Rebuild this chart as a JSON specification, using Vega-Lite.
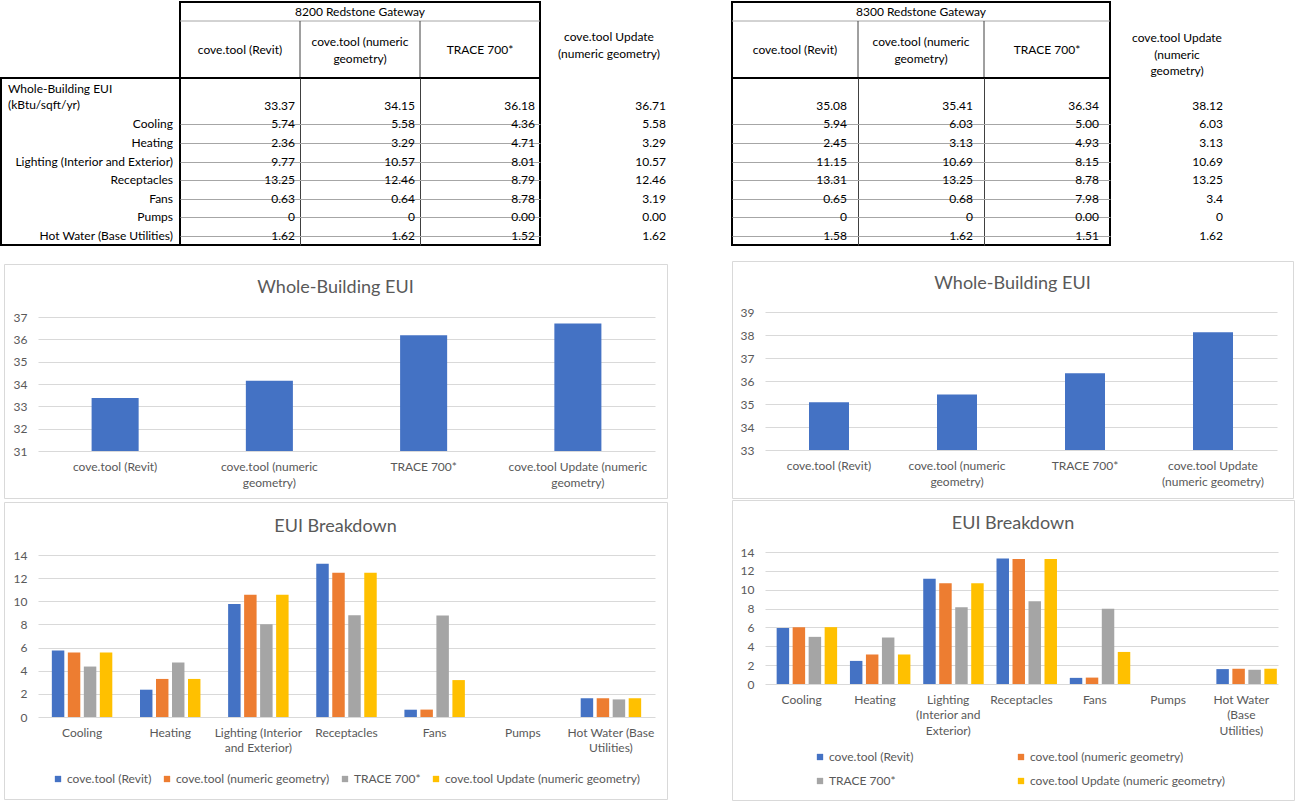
{
  "$schema": "https://vega.github.io/schema/vega-lite/v6.json",
  "padding": {"left": 0, "top": 1, "right": 4, "bottom": 2},
  "background": "white",
  "spacing": 60,
  "resolve": {"scale": {"color": "independent"}, "legend": {"color": "independent"}},
  "config": {
    "font": "Lato",
    "view": {"stroke": null},
    "text": {"font": "Lato", "fontSize": 12, "color": "#000000"},
    "axis": {"labelFont": "Lato", "labelFontSize": 12, "labelColor": "#595959", "ticks": false, "domain": false, "gridColor": "#d9d9d9", "gridWidth": 1},
    "title": {"font": "Lato", "fontSize": 18, "fontWeight": "normal", "color": "#595959", "anchor": "middle"},
    "legend": {"labelFont": "Lato", "labelFontSize": 12, "labelColor": "#595959", "symbolType": "square", "symbolSize": 40, "symbolStrokeWidth": 0, "labelOffset": 3, "labelLimit": 400}
  },
  "datasets": {
    "d": [
      {"building":"8200","metric":"Whole-Building EUI","model":"cove.tool (Revit)","value":33.37,"label":"33.37"},
      {"building":"8200","metric":"Whole-Building EUI","model":"cove.tool (numeric geometry)","value":34.15,"label":"34.15"},
      {"building":"8200","metric":"Whole-Building EUI","model":"TRACE 700*","value":36.18,"label":"36.18"},
      {"building":"8200","metric":"Whole-Building EUI","model":"cove.tool Update (numeric geometry)","value":36.71,"label":"36.71"},
      {"building":"8200","metric":"Cooling","model":"cove.tool (Revit)","value":5.74,"label":"5.74"},
      {"building":"8200","metric":"Cooling","model":"cove.tool (numeric geometry)","value":5.58,"label":"5.58"},
      {"building":"8200","metric":"Cooling","model":"TRACE 700*","value":4.36,"label":"4.36"},
      {"building":"8200","metric":"Cooling","model":"cove.tool Update (numeric geometry)","value":5.58,"label":"5.58"},
      {"building":"8200","metric":"Heating","model":"cove.tool (Revit)","value":2.36,"label":"2.36"},
      {"building":"8200","metric":"Heating","model":"cove.tool (numeric geometry)","value":3.29,"label":"3.29"},
      {"building":"8200","metric":"Heating","model":"TRACE 700*","value":4.71,"label":"4.71"},
      {"building":"8200","metric":"Heating","model":"cove.tool Update (numeric geometry)","value":3.29,"label":"3.29"},
      {"building":"8200","metric":"Lighting (Interior and Exterior)","model":"cove.tool (Revit)","value":9.77,"label":"9.77"},
      {"building":"8200","metric":"Lighting (Interior and Exterior)","model":"cove.tool (numeric geometry)","value":10.57,"label":"10.57"},
      {"building":"8200","metric":"Lighting (Interior and Exterior)","model":"TRACE 700*","value":8.01,"label":"8.01"},
      {"building":"8200","metric":"Lighting (Interior and Exterior)","model":"cove.tool Update (numeric geometry)","value":10.57,"label":"10.57"},
      {"building":"8200","metric":"Receptacles","model":"cove.tool (Revit)","value":13.25,"label":"13.25"},
      {"building":"8200","metric":"Receptacles","model":"cove.tool (numeric geometry)","value":12.46,"label":"12.46"},
      {"building":"8200","metric":"Receptacles","model":"TRACE 700*","value":8.79,"label":"8.79"},
      {"building":"8200","metric":"Receptacles","model":"cove.tool Update (numeric geometry)","value":12.46,"label":"12.46"},
      {"building":"8200","metric":"Fans","model":"cove.tool (Revit)","value":0.63,"label":"0.63"},
      {"building":"8200","metric":"Fans","model":"cove.tool (numeric geometry)","value":0.64,"label":"0.64"},
      {"building":"8200","metric":"Fans","model":"TRACE 700*","value":8.78,"label":"8.78"},
      {"building":"8200","metric":"Fans","model":"cove.tool Update (numeric geometry)","value":3.19,"label":"3.19"},
      {"building":"8200","metric":"Pumps","model":"cove.tool (Revit)","value":0,"label":"0"},
      {"building":"8200","metric":"Pumps","model":"cove.tool (numeric geometry)","value":0,"label":"0"},
      {"building":"8200","metric":"Pumps","model":"TRACE 700*","value":0,"label":"0.00"},
      {"building":"8200","metric":"Pumps","model":"cove.tool Update (numeric geometry)","value":0,"label":"0.00"},
      {"building":"8200","metric":"Hot Water (Base Utilities)","model":"cove.tool (Revit)","value":1.62,"label":"1.62"},
      {"building":"8200","metric":"Hot Water (Base Utilities)","model":"cove.tool (numeric geometry)","value":1.62,"label":"1.62"},
      {"building":"8200","metric":"Hot Water (Base Utilities)","model":"TRACE 700*","value":1.52,"label":"1.52"},
      {"building":"8200","metric":"Hot Water (Base Utilities)","model":"cove.tool Update (numeric geometry)","value":1.62,"label":"1.62"},
      {"building":"8300","metric":"Whole-Building EUI","model":"cove.tool (Revit)","value":35.08,"label":"35.08"},
      {"building":"8300","metric":"Whole-Building EUI","model":"cove.tool (numeric geometry)","value":35.41,"label":"35.41"},
      {"building":"8300","metric":"Whole-Building EUI","model":"TRACE 700*","value":36.34,"label":"36.34"},
      {"building":"8300","metric":"Whole-Building EUI","model":"cove.tool Update (numeric geometry)","value":38.12,"label":"38.12"},
      {"building":"8300","metric":"Cooling","model":"cove.tool (Revit)","value":5.94,"label":"5.94"},
      {"building":"8300","metric":"Cooling","model":"cove.tool (numeric geometry)","value":6.03,"label":"6.03"},
      {"building":"8300","metric":"Cooling","model":"TRACE 700*","value":5.0,"label":"5.00"},
      {"building":"8300","metric":"Cooling","model":"cove.tool Update (numeric geometry)","value":6.03,"label":"6.03"},
      {"building":"8300","metric":"Heating","model":"cove.tool (Revit)","value":2.45,"label":"2.45"},
      {"building":"8300","metric":"Heating","model":"cove.tool (numeric geometry)","value":3.13,"label":"3.13"},
      {"building":"8300","metric":"Heating","model":"TRACE 700*","value":4.93,"label":"4.93"},
      {"building":"8300","metric":"Heating","model":"cove.tool Update (numeric geometry)","value":3.13,"label":"3.13"},
      {"building":"8300","metric":"Lighting (Interior and Exterior)","model":"cove.tool (Revit)","value":11.15,"label":"11.15"},
      {"building":"8300","metric":"Lighting (Interior and Exterior)","model":"cove.tool (numeric geometry)","value":10.69,"label":"10.69"},
      {"building":"8300","metric":"Lighting (Interior and Exterior)","model":"TRACE 700*","value":8.15,"label":"8.15"},
      {"building":"8300","metric":"Lighting (Interior and Exterior)","model":"cove.tool Update (numeric geometry)","value":10.69,"label":"10.69"},
      {"building":"8300","metric":"Receptacles","model":"cove.tool (Revit)","value":13.31,"label":"13.31"},
      {"building":"8300","metric":"Receptacles","model":"cove.tool (numeric geometry)","value":13.25,"label":"13.25"},
      {"building":"8300","metric":"Receptacles","model":"TRACE 700*","value":8.78,"label":"8.78"},
      {"building":"8300","metric":"Receptacles","model":"cove.tool Update (numeric geometry)","value":13.25,"label":"13.25"},
      {"building":"8300","metric":"Fans","model":"cove.tool (Revit)","value":0.65,"label":"0.65"},
      {"building":"8300","metric":"Fans","model":"cove.tool (numeric geometry)","value":0.68,"label":"0.68"},
      {"building":"8300","metric":"Fans","model":"TRACE 700*","value":7.98,"label":"7.98"},
      {"building":"8300","metric":"Fans","model":"cove.tool Update (numeric geometry)","value":3.4,"label":"3.4"},
      {"building":"8300","metric":"Pumps","model":"cove.tool (Revit)","value":0,"label":"0"},
      {"building":"8300","metric":"Pumps","model":"cove.tool (numeric geometry)","value":0,"label":"0"},
      {"building":"8300","metric":"Pumps","model":"TRACE 700*","value":0,"label":"0.00"},
      {"building":"8300","metric":"Pumps","model":"cove.tool Update (numeric geometry)","value":0,"label":"0"},
      {"building":"8300","metric":"Hot Water (Base Utilities)","model":"cove.tool (Revit)","value":1.58,"label":"1.58"},
      {"building":"8300","metric":"Hot Water (Base Utilities)","model":"cove.tool (numeric geometry)","value":1.62,"label":"1.62"},
      {"building":"8300","metric":"Hot Water (Base Utilities)","model":"TRACE 700*","value":1.51,"label":"1.51"},
      {"building":"8300","metric":"Hot Water (Base Utilities)","model":"cove.tool Update (numeric geometry)","value":1.62,"label":"1.62"}
    ],
    "metrics": [
      {"metric":"Whole-Building EUI","label":"Whole-Building EUI\n(kBtu/sqft/yr)"},
      {"metric":"Cooling","label":"Cooling"},
      {"metric":"Heating","label":"Heating"},
      {"metric":"Lighting (Interior and Exterior)","label":"Lighting (Interior and Exterior)"},
      {"metric":"Receptacles","label":"Receptacles"},
      {"metric":"Fans","label":"Fans"},
      {"metric":"Pumps","label":"Pumps"},
      {"metric":"Hot Water (Base Utilities)","label":"Hot Water (Base Utilities)"}
    ],
    "heads": [
      {"model":"cove.tool (Revit)","label":"cove.tool (Revit)"},
      {"model":"cove.tool (numeric geometry)","label":"cove.tool (numeric\ngeometry)"},
      {"model":"TRACE 700*","label":"TRACE 700*"}
    ]
  },
  "hconcat": [
    {
      "spacing": 17,
      "resolve": {"scale": {"color": "independent"}, "legend": {"color": "independent"}},
      "vconcat": [
        {
          "bounds": "flush",
          "spacing": 0,
          "columns": 3,
          "concat": [
            {"width": 179, "height": 76, "data": {"values": [{"t": ""}]}, "mark": {"type": "text"}, "encoding": {"text": {"field": "t"}}},
            {
              "width": 360, "height": 76,
              "view": {"stroke": "#000000", "strokeWidth": 2},
              "layer": [
                {"data": {"values": [{"t": "8200 Redstone Gateway"}]}, "mark": {"type": "text"},
                 "encoding": {"text": {"field": "t"}, "y": {"datum": "h1", "type": "nominal", "scale": {"type": "point", "domain": ["h0","h1","h2","h3","h4","h5","h6","h7","h8"], "padding": 0}, "axis": null}}},
                {"data": {"values": [{"t": ""}]}, "mark": {"type": "rule", "color": "#a6a6a6"},
                 "encoding": {"y": {"datum": "h2", "type": "nominal", "scale": {"type": "point", "domain": ["h0","h1","h2","h3","h4","h5","h6","h7","h8"], "padding": 0}, "axis": null}}},
                {"data": {"name": "heads"},
                 "transform": [{"filter": "indexof(datum.label, '\\n') < 0"}],
                 "mark": {"type": "text"},
                 "encoding": {
                   "x": {"field": "model", "type": "nominal", "scale": {"domain": ["cove.tool (Revit)","cove.tool (numeric geometry)","TRACE 700*"], "paddingInner": 0, "paddingOuter": 0}, "axis": null},
                   "y": {"datum": "h5", "type": "nominal", "scale": {"type": "point", "domain": ["h0","h1","h2","h3","h4","h5","h6","h7","h8"], "padding": 0}, "axis": null},
                   "text": {"field": "label"}}},
                {"data": {"name": "heads"},
                 "transform": [{"filter": "indexof(datum.label, '\\n') >= 0"}],
                 "mark": {"type": "text", "lineBreak": "\n", "lineHeight": 17, "dy": 2},
                 "encoding": {
                   "x": {"field": "model", "type": "nominal", "scale": {"domain": ["cove.tool (Revit)","cove.tool (numeric geometry)","TRACE 700*"], "paddingInner": 0, "paddingOuter": 0}, "axis": null},
                   "y": {"datum": "h4", "type": "nominal", "scale": {"type": "point", "domain": ["h0","h1","h2","h3","h4","h5","h6","h7","h8"], "padding": 0}, "axis": null},
                   "text": {"field": "label"}}},
                {"data": {"values": [{"model":"cove.tool (numeric geometry)"},{"model":"TRACE 700*"}]},
                 "mark": {"type": "rule", "color": "#404040"},
                 "encoding": {
                   "x": {"field": "model", "type": "nominal", "bandPosition": 0, "scale": {"domain": ["cove.tool (Revit)","cove.tool (numeric geometry)","TRACE 700*"], "paddingInner": 0, "paddingOuter": 0}, "axis": null},
                   "y": {"datum": "h2", "type": "nominal", "scale": {"type": "point", "domain": ["h0","h1","h2","h3","h4","h5","h6","h7","h8"], "padding": 0}, "axis": null},
                   "y2": {"datum": "h8"}}}
              ]
            },
            {"width": 130, "height": 76, "data": {"values": [{"t": "cove.tool Update\n(numeric geometry)"}]},
             "mark": {"type": "text", "lineBreak": "\n", "lineHeight": 16.5, "dx": 4, "dy": -3}, "encoding": {"text": {"field": "t"}}},
            {
              "width": 179, "height": 167,
              "view": {"stroke": "#000000", "strokeWidth": 2},
              "data": {"name": "metrics"},
              "layer": [
                {"transform": [{"filter": "datum.metric == 'Whole-Building EUI'"}],
                 "mark": {"type": "text", "align": "left", "dx": 7, "dy": 2, "lineBreak": "\n", "lineHeight": 16},
                 "encoding": {
                   "x": {"datum": "left", "type": "nominal", "scale": {"type": "point", "domain": ["left","right"], "padding": 0}, "axis": null},
                   "y": {"datum": "EUI top", "type": "nominal", "scale": {"domain": ["EUI top","Whole-Building EUI","Cooling","Heating","Lighting (Interior and Exterior)","Receptacles","Fans","Pumps","Hot Water (Base Utilities)"], "paddingInner": 0, "paddingOuter": 0}, "axis": null},
                   "text": {"field": "label"}}},
                {"transform": [{"filter": "datum.metric != 'Whole-Building EUI'"}],
                 "mark": {"type": "text", "align": "right", "dx": -7},
                 "encoding": {
                   "x": {"datum": "right", "type": "nominal", "scale": {"type": "point", "domain": ["left","right"], "padding": 0}, "axis": null},
                   "y": {"field": "metric", "type": "nominal", "scale": {"domain": ["EUI top","Whole-Building EUI","Cooling","Heating","Lighting (Interior and Exterior)","Receptacles","Fans","Pumps","Hot Water (Base Utilities)"], "paddingInner": 0, "paddingOuter": 0},
                         "axis": {"title": null, "labels": false, "grid": true, "gridColor": "#a6a6a6", "bandPosition": 0, "values": ["Cooling","Heating","Lighting (Interior and Exterior)","Receptacles","Fans","Pumps","Hot Water (Base Utilities)"]}},
                   "text": {"field": "label"}}}
              ]
            },
            {
              "width": 360, "height": 167,
              "view": {"stroke": "#000000", "strokeWidth": 2},
              "data": {"name": "d"},
              "transform": [{"filter": "datum.building == '8200' && datum.model != 'cove.tool Update (numeric geometry)'"}],
              "mark": {"type": "text", "align": "right", "dx": -5},
              "encoding": {
                "x": {"field": "model", "type": "nominal", "scale": {"type": "point", "domain": ["left edge","cove.tool (Revit)","cove.tool (numeric geometry)","TRACE 700*"], "padding": 0},
                      "axis": {"title": null, "labels": false, "grid": true, "gridColor": "#404040", "values": ["cove.tool (Revit)","cove.tool (numeric geometry)"]}},
                "y": {"field": "metric", "type": "nominal", "scale": {"domain": ["EUI top","Whole-Building EUI","Cooling","Heating","Lighting (Interior and Exterior)","Receptacles","Fans","Pumps","Hot Water (Base Utilities)"], "paddingInner": 0, "paddingOuter": 0},
                      "axis": {"title": null, "labels": false, "grid": true, "gridColor": "#a6a6a6", "bandPosition": 0, "values": ["Cooling","Heating","Lighting (Interior and Exterior)","Receptacles","Fans","Pumps","Hot Water (Base Utilities)"]}},
                "text": {"field": "label"}
              }
            },
            {
              "width": 130, "height": 167,
              "data": {"name": "d"},
              "transform": [{"filter": "datum.building == '8200' && datum.model == 'cove.tool Update (numeric geometry)'"}],
              "mark": {"type": "text", "align": "right", "dx": -4},
              "encoding": {
                "x": {"datum": "right", "type": "nominal", "scale": {"type": "point", "domain": ["left","right"], "padding": 0}, "axis": null},
                "y": {"field": "metric", "type": "nominal", "scale": {"domain": ["EUI top","Whole-Building EUI","Cooling","Heating","Lighting (Interior and Exterior)","Receptacles","Fans","Pumps","Hot Water (Base Utilities)"], "paddingInner": 0, "paddingOuter": 0}, "axis": null},
                "text": {"field": "label"}
              }
            }
          ]
        },
        {
          "spacing": 1,
          "resolve": {"scale": {"color": "independent"}, "legend": {"color": "independent"}},
          "hconcat": [
            {"width": 1, "height": 1, "data": {"values": []}, "mark": {"type": "point"}},
            {
              "bounds": "flush",
              "spacing": 4,
              "resolve": {"scale": {"color": "independent"}, "legend": {"color": "independent"}},
              "vconcat": [
                {
                  "width": 663, "height": 234,
                  "view": {"stroke": "#d9d9d9", "strokeWidth": 1},
                  "title": {"text": "Whole-Building EUI", "offset": -33},
                  "data": {"name": "d"},
                  "transform": [{"filter": "datum.building == '8200' && datum.metric == 'Whole-Building EUI'"}],
                  "mark": {"type": "bar", "color": "#4472C4"},
                  "encoding": {
                    "x": {"field": "model", "type": "nominal", "scale": {"domain": ["cove.tool (Revit)","cove.tool (numeric geometry)","TRACE 700*","cove.tool Update (numeric geometry)"], "range": [34, 651], "paddingInner": 0.695, "paddingOuter": 0.3475},
                          "axis": {"title": null, "offset": -47, "labelPadding": 10, "labelAngle": 0, "labelLineHeight": 16,
                                   "labelExpr": "datum.label == 'cove.tool (numeric geometry)' ? ['cove.tool (numeric', 'geometry)'] : datum.label == 'cove.tool Update (numeric geometry)' ? ['cove.tool Update (numeric', 'geometry)'] : datum.label"}},
                    "y": {"field": "value", "type": "quantitative", "scale": {"domain": [31, 37], "range": [187, 53], "nice": false, "zero": false},
                          "axis": {"title": null, "offset": -34, "labelPadding": 11, "values": [31,32,33,34,35,36,37], "grid": true}},
                    "y2": {"datum": 31}
                  }
                },
                {
                  "width": 663, "height": 297,
                  "view": {"stroke": "#d9d9d9", "strokeWidth": 1},
                  "title": {"text": "EUI Breakdown", "offset": -34},
                  "data": {"name": "d"},
                  "transform": [{"filter": "datum.building == '8200' && datum.metric != 'Whole-Building EUI'"}],
                  "mark": {"type": "bar"},
                  "encoding": {
                    "x": {"field": "metric", "type": "nominal", "scale": {"domain": ["Cooling","Heating","Lighting (Interior and Exterior)","Receptacles","Fans","Pumps","Hot Water (Base Utilities)"], "range": [34, 651], "paddingInner": 0.314, "paddingOuter": 0.157},
                          "axis": {"title": null, "offset": -82, "labelPadding": 10, "labelAngle": 0, "labelLineHeight": 15,
                                   "labelExpr": "datum.label == 'Lighting (Interior and Exterior)' ? ['Lighting (Interior', 'and Exterior)'] : datum.label == 'Hot Water (Base Utilities)' ? ['Hot Water (Base', 'Utilities)'] : datum.label"}},
                    "xOffset": {"field": "model", "type": "nominal", "scale": {"domain": ["cove.tool (Revit)","cove.tool (numeric geometry)","TRACE 700*","cove.tool Update (numeric geometry)"], "paddingInner": 0.22, "paddingOuter": 0}},
                    "y": {"field": "value", "type": "quantitative", "scale": {"domain": [0, 14], "range": [215, 53], "nice": false},
                          "axis": {"title": null, "offset": -34, "labelPadding": 11, "values": [0,2,4,6,8,10,12,14], "grid": true}},
                    "color": {"field": "model", "type": "nominal", "scale": {"domain": ["cove.tool (Revit)","cove.tool (numeric geometry)","TRACE 700*","cove.tool Update (numeric geometry)"], "range": ["#4472C4","#ED7D31","#A5A5A5","#FFC000"]},
                              "legend": {"title": null, "orient": "none", "legendX": 48, "legendY": 271, "direction": "horizontal", "columnPadding": 9}}
                  }
                }
              ]
            }
          ]
        }
      ]
    },
    {
      "spacing": 14,
      "resolve": {"scale": {"color": "independent"}, "legend": {"color": "independent"}},
      "vconcat": [
        {
          "bounds": "flush",
          "spacing": 0,
          "columns": 2,
          "concat": [
            {
              "width": 378, "height": 76,
              "view": {"stroke": "#000000", "strokeWidth": 2},
              "layer": [
                {"data": {"values": [{"t": "8300 Redstone Gateway"}]}, "mark": {"type": "text"},
                 "encoding": {"text": {"field": "t"}, "y": {"datum": "h1", "type": "nominal", "scale": {"type": "point", "domain": ["h0","h1","h2","h3","h4","h5","h6","h7","h8"], "padding": 0}, "axis": null}}},
                {"data": {"values": [{"t": ""}]}, "mark": {"type": "rule", "color": "#a6a6a6"},
                 "encoding": {"y": {"datum": "h2", "type": "nominal", "scale": {"type": "point", "domain": ["h0","h1","h2","h3","h4","h5","h6","h7","h8"], "padding": 0}, "axis": null}}},
                {"data": {"name": "heads"},
                 "transform": [{"filter": "indexof(datum.label, '\\n') < 0"}],
                 "mark": {"type": "text"},
                 "encoding": {
                   "x": {"field": "model", "type": "nominal", "scale": {"domain": ["cove.tool (Revit)","cove.tool (numeric geometry)","TRACE 700*"], "paddingInner": 0, "paddingOuter": 0}, "axis": null},
                   "y": {"datum": "h5", "type": "nominal", "scale": {"type": "point", "domain": ["h0","h1","h2","h3","h4","h5","h6","h7","h8"], "padding": 0}, "axis": null},
                   "text": {"field": "label"}}},
                {"data": {"name": "heads"},
                 "transform": [{"filter": "indexof(datum.label, '\\n') >= 0"}],
                 "mark": {"type": "text", "lineBreak": "\n", "lineHeight": 17, "dy": 2},
                 "encoding": {
                   "x": {"field": "model", "type": "nominal", "scale": {"domain": ["cove.tool (Revit)","cove.tool (numeric geometry)","TRACE 700*"], "paddingInner": 0, "paddingOuter": 0}, "axis": null},
                   "y": {"datum": "h4", "type": "nominal", "scale": {"type": "point", "domain": ["h0","h1","h2","h3","h4","h5","h6","h7","h8"], "padding": 0}, "axis": null},
                   "text": {"field": "label"}}},
                {"data": {"values": [{"model":"cove.tool (numeric geometry)"},{"model":"TRACE 700*"}]},
                 "mark": {"type": "rule", "color": "#404040"},
                 "encoding": {
                   "x": {"field": "model", "type": "nominal", "bandPosition": 0, "scale": {"domain": ["cove.tool (Revit)","cove.tool (numeric geometry)","TRACE 700*"], "paddingInner": 0, "paddingOuter": 0}, "axis": null},
                   "y": {"datum": "h2", "type": "nominal", "scale": {"type": "point", "domain": ["h0","h1","h2","h3","h4","h5","h6","h7","h8"], "padding": 0}, "axis": null},
                   "y2": {"datum": "h8"}}}
              ]
            },
            {"width": 130, "height": 76, "data": {"values": [{"t": "cove.tool Update\n(numeric\ngeometry)"}]},
             "mark": {"type": "text", "lineBreak": "\n", "lineHeight": 16.5, "dx": 2, "dy": -2}, "encoding": {"text": {"field": "t"}}},
            {
              "width": 378, "height": 167,
              "view": {"stroke": "#000000", "strokeWidth": 2},
              "data": {"name": "d"},
              "transform": [{"filter": "datum.building == '8300' && datum.model != 'cove.tool Update (numeric geometry)'"}],
              "mark": {"type": "text", "align": "right", "dx": -11},
              "encoding": {
                "x": {"field": "model", "type": "nominal", "scale": {"type": "point", "domain": ["left edge","cove.tool (Revit)","cove.tool (numeric geometry)","TRACE 700*"], "padding": 0},
                      "axis": {"title": null, "labels": false, "grid": true, "gridColor": "#404040", "values": ["cove.tool (Revit)","cove.tool (numeric geometry)"]}},
                "y": {"field": "metric", "type": "nominal", "scale": {"domain": ["EUI top","Whole-Building EUI","Cooling","Heating","Lighting (Interior and Exterior)","Receptacles","Fans","Pumps","Hot Water (Base Utilities)"], "paddingInner": 0, "paddingOuter": 0},
                      "axis": {"title": null, "labels": false, "grid": true, "gridColor": "#a6a6a6", "bandPosition": 0, "values": ["Cooling","Heating","Lighting (Interior and Exterior)","Receptacles","Fans","Pumps","Hot Water (Base Utilities)"]}},
                "text": {"field": "label"}
              }
            },
            {
              "width": 130, "height": 167,
              "data": {"name": "d"},
              "transform": [{"filter": "datum.building == '8300' && datum.model == 'cove.tool Update (numeric geometry)'"}],
              "mark": {"type": "text", "align": "right", "dx": -17},
              "encoding": {
                "x": {"datum": "right", "type": "nominal", "scale": {"type": "point", "domain": ["left","right"], "padding": 0}, "axis": null},
                "y": {"field": "metric", "type": "nominal", "scale": {"domain": ["EUI top","Whole-Building EUI","Cooling","Heating","Lighting (Interior and Exterior)","Receptacles","Fans","Pumps","Hot Water (Base Utilities)"], "paddingInner": 0, "paddingOuter": 0}, "axis": null},
                "text": {"field": "label"}
              }
            }
          ]
        },
        {
          "bounds": "flush",
          "spacing": 2,
          "resolve": {"scale": {"color": "independent"}, "legend": {"color": "independent"}},
          "vconcat": [
            {
              "width": 561, "height": 237,
              "view": {"stroke": "#d9d9d9", "strokeWidth": 1},
              "title": {"text": "Whole-Building EUI", "offset": -32},
              "data": {"name": "d"},
              "transform": [{"filter": "datum.building == '8300' && datum.metric == 'Whole-Building EUI'"}],
              "mark": {"type": "bar", "color": "#4472C4"},
              "encoding": {
                "x": {"field": "model", "type": "nominal", "scale": {"domain": ["cove.tool (Revit)","cove.tool (numeric geometry)","TRACE 700*","cove.tool Update (numeric geometry)"], "range": [33, 545], "paddingInner": 0.6875, "paddingOuter": 0.34375},
                      "axis": {"title": null, "offset": -48, "labelPadding": 10, "labelAngle": 0, "labelLineHeight": 16,
                               "labelExpr": "datum.label == 'cove.tool (numeric geometry)' ? ['cove.tool (numeric', 'geometry)'] : datum.label == 'cove.tool Update (numeric geometry)' ? ['cove.tool Update', '(numeric geometry)'] : datum.label"}},
                "y": {"field": "value", "type": "quantitative", "scale": {"domain": [33, 39], "range": [189, 51], "nice": false, "zero": false},
                      "axis": {"title": null, "offset": -33, "labelPadding": 11, "values": [33,34,35,36,37,38,39], "grid": true}},
                "y2": {"datum": 33}
              }
            },
            {
              "width": 562, "height": 300,
              "view": {"stroke": "#d9d9d9", "strokeWidth": 1},
              "title": {"text": "EUI Breakdown", "offset": -33},
              "data": {"name": "d"},
              "transform": [{"filter": "datum.building == '8300' && datum.metric != 'Whole-Building EUI'"}],
              "mark": {"type": "bar"},
              "encoding": {
                "x": {"field": "metric", "type": "nominal", "scale": {"domain": ["Cooling","Heating","Lighting (Interior and Exterior)","Receptacles","Fans","Pumps","Hot Water (Base Utilities)"], "range": [33, 546], "paddingInner": 0.318, "paddingOuter": 0.159},
                      "axis": {"title": null, "offset": -116, "labelPadding": 10, "labelAngle": 0, "labelLineHeight": 15.5,
                               "labelExpr": "datum.label == 'Lighting (Interior and Exterior)' ? ['Lighting', '(Interior and', 'Exterior)'] : datum.label == 'Hot Water (Base Utilities)' ? ['Hot Water', '(Base', 'Utilities)'] : datum.label"}},
                "xOffset": {"field": "model", "type": "nominal", "scale": {"domain": ["cove.tool (Revit)","cove.tool (numeric geometry)","TRACE 700*","cove.tool Update (numeric geometry)"], "paddingInner": 0.25, "paddingOuter": 0}},
                "y": {"field": "value", "type": "quantitative", "scale": {"domain": [0, 14], "range": [184, 52], "nice": false},
                      "axis": {"title": null, "offset": -33, "labelPadding": 11, "values": [0,2,4,6,8,10,12,14], "grid": true}},
                "color": {"field": "model", "type": "nominal", "scale": {"domain": ["cove.tool (Revit)","cove.tool (numeric geometry)","TRACE 700*","cove.tool Update (numeric geometry)"], "range": ["#4472C4","#ED7D31","#A5A5A5","#FFC000"]},
                          "legend": {"title": null, "orient": "none", "legendX": 82, "legendY": 251, "direction": "horizontal", "columns": 2, "columnPadding": 101, "rowPadding": 12}}
              }
            }
          ]
        }
      ]
    }
  ]
}
